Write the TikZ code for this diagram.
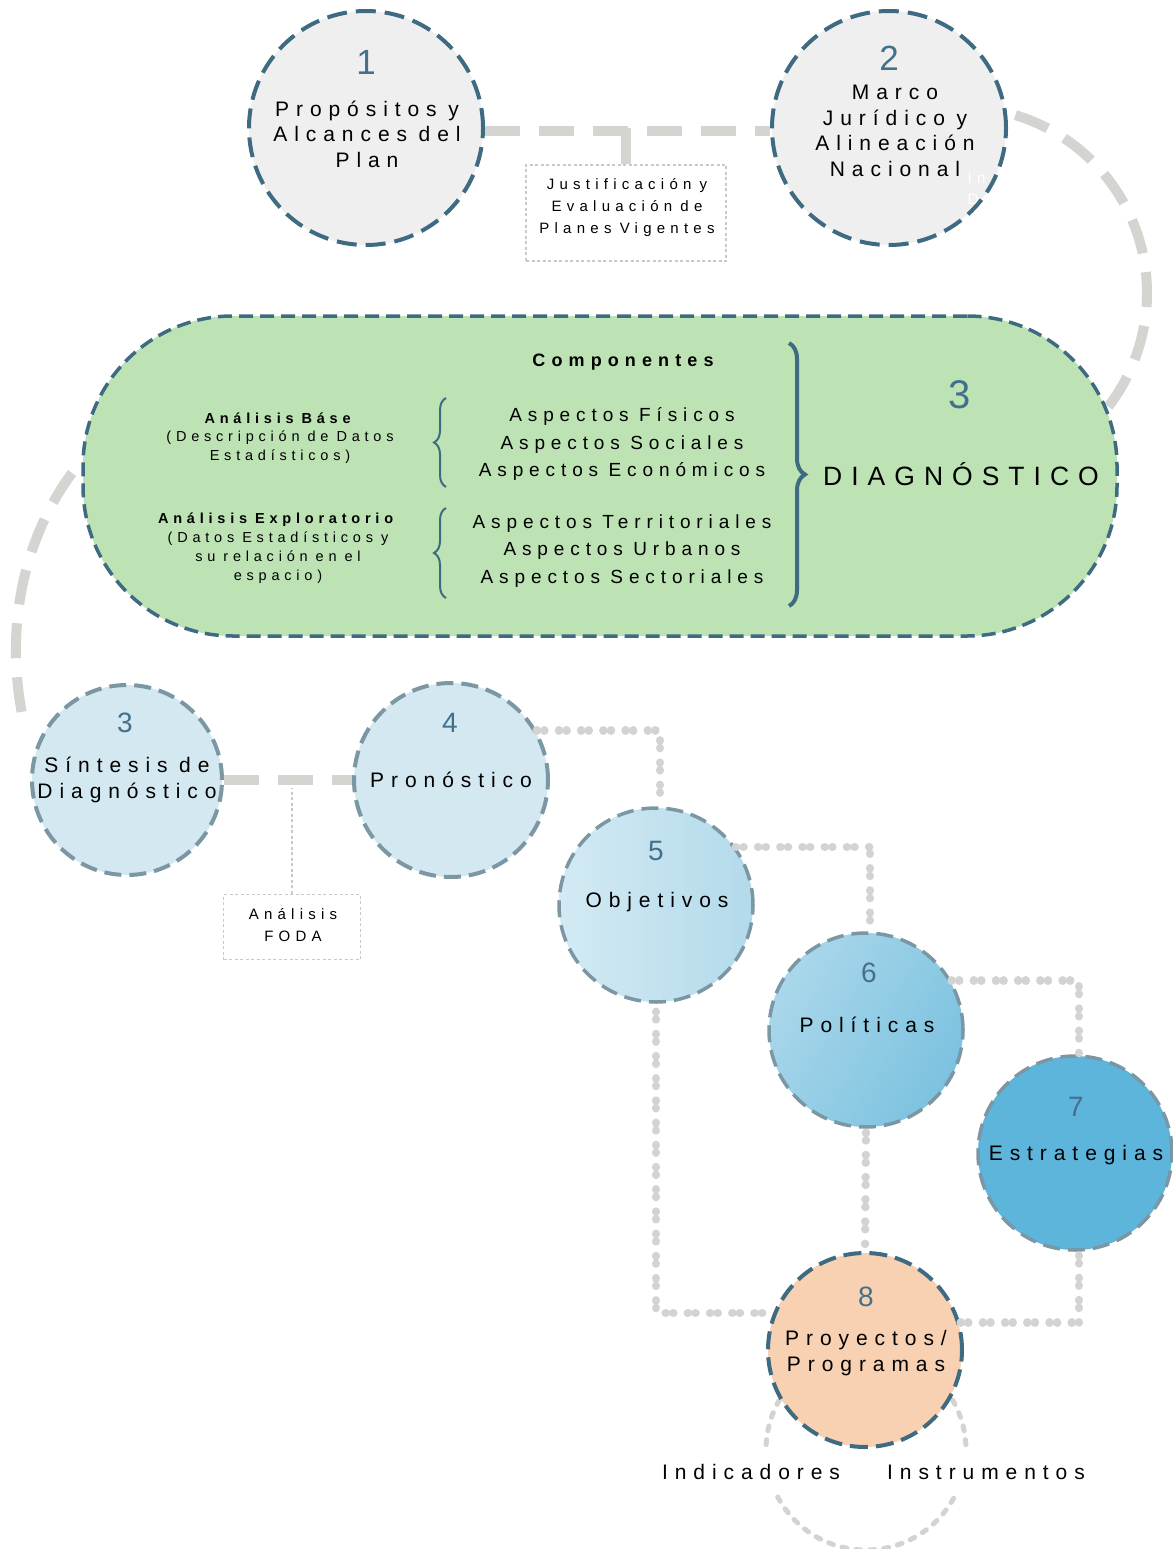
\documentclass[tikz,border=0pt]{standalone}
\usepackage{fontspec}
\setmainfont{Liberation Sans}
\usetikzlibrary{decorations.pathreplacing}
\definecolor{cgray}{HTML}{F0EFEF}
\definecolor{dteal}{HTML}{3E6B82}
\definecolor{numc}{HTML}{43708A}
\definecolor{cgreen}{HTML}{BDE3B5}
\definecolor{clblue}{HTML}{D4E8F1}
\definecolor{cbord}{HTML}{7B97A4}
\definecolor{cpeach}{HTML}{F8D1B2}
\definecolor{conn}{HTML}{D4D4D1}
\definecolor{dotg}{HTML}{D3D3D3}
\definecolor{boxg}{HTML}{C9C9C9}
\definecolor{c5a}{HTML}{D3EAF3}
\definecolor{c5b}{HTML}{B3DAEB}
\definecolor{c6a}{HTML}{AAD7EA}
\definecolor{c6b}{HTML}{7CC2E0}
\definecolor{c7f}{HTML}{5DB5DC}
\newcommand\fsz[3]{\fontsize{#1}{#2}\selectfont\addfontfeatures{LetterSpace=#3}\spaceskip=0.55em\relax}
\begin{document}
\begin{tikzpicture}[x=1pt,y=-1pt,
  topcirc/.style={circle, inner sep=0, minimum size=234pt, fill=cgray, draw=dteal, line width=4pt, dash pattern=on 20pt off 9pt},
  bluecirc/.style={circle, inner sep=0, minimum size=194pt, draw=cbord, line width=4pt, dash pattern=on 17pt off 8pt},
  numlab/.style={text=numc, font=\fsz{28}{32}{0}},
  bignum/.style={text=numc, font=\fsz{35}{40}{0}},
  ctext/.style={align=center, text=black, font=\fsz{21}{25.5}{33}},
  gtext/.style={align=center, text=black, font=\fsz{19}{27.5}{31}},
  stext/.style={align=center, text=black, font=\fsz{14.5}{18.8}{33}},
  btext/.style={align=center, text=black, font=\fsz{15}{22}{35}},
  graydash/.style={draw=conn, line width=10pt, dash pattern=on 35pt off 19pt},
  dotline/.style={draw=dotg, line width=8.5pt, line cap=round, dash pattern=on 0.1pt off 7.5pt on 0.1pt off 14.5pt},
  thindot/.style={draw=boxg, line width=1.4pt, dash pattern=on 3pt off 2.5pt},
  brc/.style={draw=dteal, decorate, line width=2pt}
]
\fill[white] (0,0) rectangle (1172,1549);
\useasboundingbox (0,0) rectangle (1172,1549);

% ---- top row
\node[topcirc] (c1) at (366,128) {};
\node[topcirc] (c2) at (889,128) {};
\node[thindot, minimum width=200pt, minimum height=96pt, inner sep=0] (jbox) at (626,213) {};
\draw[graydash] (c1.east |- 0,131) -- (c2.west |- 0,131);
\draw[draw=conn, line width=10pt] (jbox.north) -- ++(0,-36);

\node[bignum] (n1) at (366,62) {1};
\node[ctext] (t1) at (367,134) {Propósitos y\\Alcances del\\Plan};
\node[bignum] (n2) at (889,58) {2};
\node[ctext] (t2) at (895,131) {Marco\\Jurídico y\\Alineación\\Nacional};
\node[anchor=west, text=white, font=\fsz{15}{21}{36}, align=left] (ghost) at (964,189) {In\\De};
\node[btext] (jt) at (627,208) {Justificación y\\Evaluación de\\Planes Vigentes};

% ---- big gray arc from c2 to green
\coordinate (arcc) at (961,293);
\draw[graydash] (arcc) ++(-73:186) arc[start angle=-73, end angle=39, radius=186];

% ---- green box
\node[draw=dteal, fill=cgreen, line width=3.5pt, dash pattern=on 14pt off 7pt, rounded corners=150pt, minimum width=1034pt, minimum height=320pt, inner sep=0] (g) at (600,476) {};
\node[gtext, font=\bfseries\fsz{18}{22}{34}] (comp) at (623,362) {Componentes};
\node[gtext] (asp1) at (622,444) {Aspectos Físicos\\Aspectos Sociales\\Aspectos Económicos};
\node[gtext] (asp2) at (622,551) {Aspectos Territoriales\\Aspectos Urbanos\\Aspectos Sectoriales};
\node[stext] (ab) at (280,438) {\textbf{Análisis Báse}\\(Descripción de Datos\\Estadísticos)};
\node[stext] (ae) at (278,548) {\textbf{Análisis Exploratorio}\\(Datos Estadísticos y\\su relación en el\\espacio)};
\draw[brc, decoration={brace, amplitude=12pt}] (446,487) -- (446,398);
\draw[brc, decoration={brace, amplitude=12pt}] (446,598) -- (446,508);
\draw[brc, line width=4pt, decoration={brace, amplitude=16pt}] (789,343) -- (789,606);
\node[text=numc, font=\fsz{40}{44}{0}] (n3g) at (960,395) {3};
\node[text=black, font=\fsz{26.5}{30}{34}] (diag) at (961,474) {DIAGNÓSTICO};

% ---- left curve from green to c3
\draw[graydash] (72,473) .. controls (30,530) and (0,620) .. (25,728);

% ---- bottom dotted ring around 8
\coordinate (ringc) at (866,1450);
\draw[draw=dotg, line width=5pt, line cap=round, dash pattern=on 5pt off 9pt] (ringc) ++(210:100) arc[start angle=210, end angle=180, radius=100];
\draw[draw=dotg, line width=5pt, line cap=round, dash pattern=on 5pt off 9pt] (ringc) ++(-30:100) arc[start angle=-30, end angle=0, radius=100];
\draw[draw=dotg, line width=5pt, line cap=round, dash pattern=on 5pt off 9pt] (ringc) ++(152:100) arc[start angle=152, end angle=28, radius=100];

% ---- circles row 2
\node[bluecirc, fill=clblue, minimum size=190pt] (c3) at (127,780) {};
\node[bluecirc, fill=clblue] (c4) at (451,780) {};
\node[bluecirc, left color=c5a, right color=c5b, line width=3.5pt] (c5) at (656,905) {};
\node[bluecirc, left color=c6a, right color=c6b, shading angle=60, line width=3.5pt] (c6) at (866,1030) {};
\node[bluecirc, fill=c7f, line width=3.5pt] (c7) at (1075,1153) {};
\node[bluecirc, fill=cpeach, draw=dteal, line width=4pt, dash pattern=on 18pt off 8pt] (c8) at (865,1350) {};

% connectors
\draw[graydash] (c3.east) -- (c4.west);
\node[thindot, minimum width=137pt, minimum height=65pt, inner sep=0] (foda) at (292,927) {};
\draw[thindot] (foda.north) -- (foda.north |- 0,788);
\draw[dotline] (c4.30) -| ([xshift=4pt]c5.north);
\draw[dotline] (c5.36) -| ([xshift=4pt]c6.north);
\draw[dotline] (c6.30) -| ([xshift=4pt]c7.north);
\draw[dotline] ([yshift=-8pt]c5.south) |- (c8.158);
\draw[dotline] ([yshift=-4pt]c6.south) -- (c8.north);
\draw[dotline] ([xshift=4pt,yshift=-4pt]c7.south) |- (c8.16);

% texts row 2
\node[numlab] (n3) at (125,723) {3};
\node[ctext] (t3) at (127,780) {Síntesis de\\Diagnóstico};
\node[numlab] (n4) at (450,723) {4};
\node[ctext] (t4) at (451,780) {Pronóstico};
\node[btext] (ft) at (293,925) {Análisis\\FODA};
\node[numlab] (n5) at (656,851) {5};
\node[ctext] (t5) at (657,902) {Objetivos};
\node[numlab] (n6) at (869,973) {6};
\node[ctext] (t6) at (867,1025) {Políticas};
\node[numlab] (n7) at (1076,1107) {7};
\node[ctext] (t7) at (1076,1155) {Estrategias};
\node[numlab] (n8) at (866,1297) {8};
\node[ctext] (t8) at (866,1353) {Proyectos/\\Programas};
\node[ctext] (ind) at (751,1472) {Indicadores};
\node[ctext] (ins) at (986,1472) {Instrumentos};
\end{tikzpicture}
\end{document}
